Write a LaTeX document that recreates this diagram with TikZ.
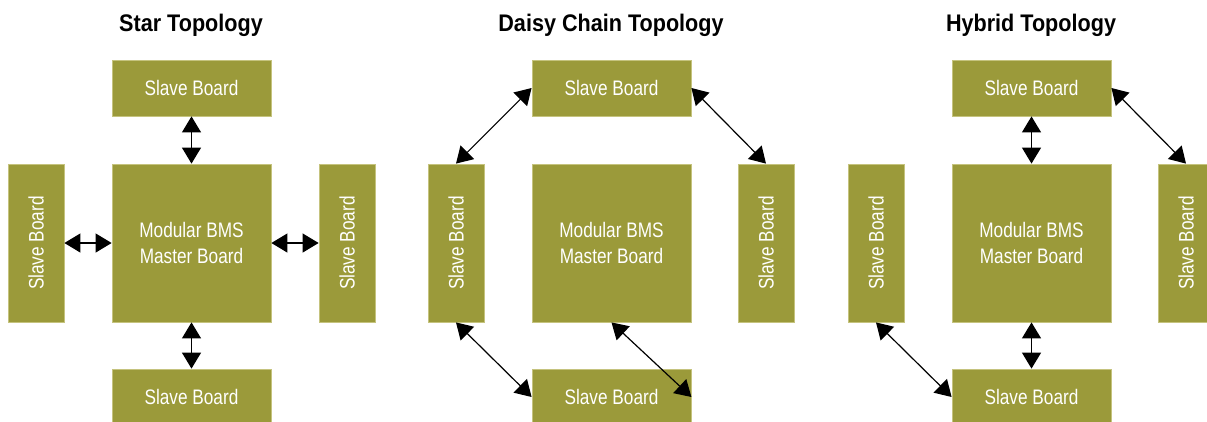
\documentclass[tikz,border=0pt]{standalone}
\usepackage{fontspec}
\setmainfont{Liberation Sans}
\newfontfamily\boxfont{Liberation Sans}[FakeStretch=0.82]
\newfontfamily\titlefont{Liberation Sans}[FakeStretch=0.9]
\usetikzlibrary{arrows.meta}
\definecolor{boardfill}{HTML}{9B9A3A}
\definecolor{boardedge}{HTML}{C5C37E}
\begin{document}
\begin{tikzpicture}[x=1pt,y=-1pt,
  board/.style={draw=boardedge, line width=0.8pt, fill=boardfill, inner sep=0pt},
  boxtext/.style={text=white, font=\boxfont\fontsize{21}{26}\selectfont, align=center, inner sep=0pt},
  hbox/.style={board, boxtext, minimum width=159pt, minimum height=56pt},
  vbox/.style={board, minimum width=56pt, minimum height=158pt},
  mbox/.style={board, boxtext, minimum width=159pt, minimum height=158pt},
  link/.style={line width=1.2pt, {Triangle[length=16pt,width=19pt]}-{Triangle[length=16pt,width=19pt]}},
  title/.style={font=\titlefont\bfseries\fontsize{24}{28}\selectfont, anchor=base}]
\clip (0,0) rectangle (1207,421);
% ---------- Star ----------
\node[title] (t1) at (191,31) {Star Topology};
\node[hbox] (sT) at (191.5,88) {Slave Board};
\node[mbox] (sM) at (191.5,243) {Modular BMS\\Master Board};
\node[vbox] (sL) at (36,243) {};
\node[boxtext, rotate=90] (sLt) at (sL) {Slave Board};
\node[vbox] (sR) at (347,243) {};
\node[boxtext, rotate=90] (sRt) at (sR) {Slave Board};
\node[hbox] (sB) at (191.5,397) {Slave Board};
\draw[link] (sT.south) -- (sM.north);
\draw[link] (sM.south) -- (sB.north);
\draw[link] (sL.east) -- (sM.west);
\draw[link] (sM.east) -- (sR.west);
% ---------- Daisy ----------
\node[title] (t2) at (611,31) {Daisy Chain Topology};
\node[hbox] (dT) at (611.5,88) {Slave Board};
\node[mbox] (dM) at (611.5,243) {Modular BMS\\Master Board};
\node[vbox] (dL) at (456,243) {};
\node[boxtext, rotate=90] (dLt) at (dL) {Slave Board};
\node[vbox] (dR) at (766,243) {};
\node[boxtext, rotate=90] (dRt) at (dR) {Slave Board};
\node[hbox] (dB) at (611.5,397) {Slave Board};
\draw[link] (dT.west) -- (dL.north);
\draw[link] (dT.east) -- (dR.north);
\draw[link] (dL.south) -- (dB.west);
\draw[link] (dM.south) -- (dB.east);
% ---------- Hybrid ----------
\node[title] (t3) at (1031,31) {Hybrid Topology};
\node[hbox] (hT) at (1031.5,88) {Slave Board};
\node[mbox] (hM) at (1031.5,243) {Modular BMS\\Master Board};
\node[vbox] (hL) at (876,243) {};
\node[boxtext, rotate=90] (hLt) at (hL) {Slave Board};
\node[vbox] (hR) at (1186,243) {};
\node[boxtext, rotate=90] (hRt) at (hR) {Slave Board};
\node[hbox] (hB) at (1031.5,397) {Slave Board};
\draw[link] (hT.south) -- (hM.north);
\draw[link] (hM.south) -- (hB.north);
\draw[link] (hT.east) -- (hR.north);
\draw[link] (hL.south) -- (hB.west);
\end{tikzpicture}
\end{document}
